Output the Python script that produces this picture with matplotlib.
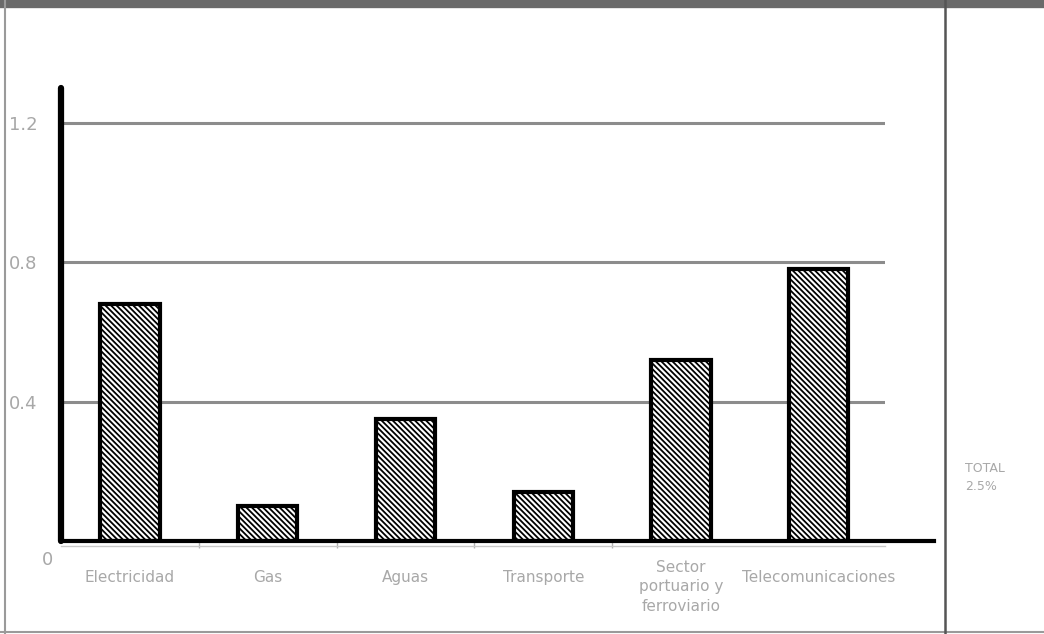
import matplotlib.pyplot as plt
from matplotlib.lines import Line2D

# Sector values (percent of GDP)
sectores = ['Electricidad', 'Gas', 'Aguas', 'Transporte',
            'Sector\nportuario y\nferroviario', 'Telecomunicaciones']
valores = [0.68, 0.10, 0.35, 0.14, 0.52, 0.78]
yticks = [0.4, 0.8, 1.2]
ytick_labels = ['0.4', '0.8', '1.2']
total_label = 'TOTAL\n2.5%'

plt.rcParams['font.family'] = ['DejaVu Sans']
plt.rcParams['hatch.linewidth'] = 1.3
label_gray = '#a8a8a8'

fig = plt.figure(figsize=(10.44, 6.34), dpi=100)
ax = fig.add_axes([61 / 1044, 93 / 634, 824 / 1044, 453 / 634])

x = range(len(sectores))
ax.bar(x, valores, width=0.43, color='white', edgecolor='black',
       linewidth=3, hatch='\\' * 6, zorder=3)

ax.set_xlim(-0.5, 5.48)
ax.set_ylim(0, 1.30)

# gray gridlines only at the labelled ticks
for t in yticks:
    ax.axhline(t, color='#8c8c8c', linewidth=2.2, zorder=1)

for s in ['top', 'right', 'bottom']:
    ax.spines[s].set_visible(False)
ax.spines['left'].set_linewidth(4.5)
ax.spines['left'].set_capstyle('round')
ax.spines['left'].set_zorder(4)

# thick x axis, running a bit past the plot area
ax.add_line(Line2D([0, 1.06], [0, 0], transform=ax.transAxes, color='black',
                   linewidth=3, clip_on=False, zorder=4))
ax.add_line(Line2D([0, 1.0], [-0.01, -0.01], transform=ax.transAxes,
                   color='#c8c8c8', linewidth=1, clip_on=False, zorder=2))

ax.set_yticks(yticks)
ax.set_yticklabels(ytick_labels)
ax.tick_params(axis='y', length=0, pad=17, labelsize=13, labelcolor=label_gray)

ax.set_xticks([0.5, 1.5, 2.5, 3.5])
ax.set_xticklabels([])
ax.tick_params(axis='x', length=5, width=1, color='#b0b0b0', direction='out')

for i, name in enumerate(sectores):
    nlines = name.count('\n') + 1
    ax.text(i, -0.0795 - 0.011 * (nlines - 1), name, ha='center', va='center',
            fontsize=11, color=label_gray, linespacing=1.4,
            transform=ax.get_xaxis_transform())

ax.text(-0.016, -0.042, '0', transform=ax.transAxes, ha='center', va='center',
        fontsize=13, color=label_gray)

# outer frame of the figure
fig.add_artist(Line2D([0, 1], [1 - 4 / 634, 1 - 4 / 634], color='#6a6a6a', linewidth=6))
fig.add_artist(Line2D([5 / 1044, 5 / 1044], [0, 1], color='#9a9a9a', linewidth=1.5))
fig.add_artist(Line2D([0, 1], [2 / 634, 2 / 634], color='#9a9a9a', linewidth=1.5))
fig.add_artist(Line2D([945 / 1044, 945 / 1044], [0, 1], color='#555555', linewidth=1.8))

fig.text(965 / 1044, 1 - 478 / 634, total_label, ha='left', va='center',
         fontsize=9, color=label_gray, linespacing=1.5)

fig.savefig('out.png', dpi=100)
